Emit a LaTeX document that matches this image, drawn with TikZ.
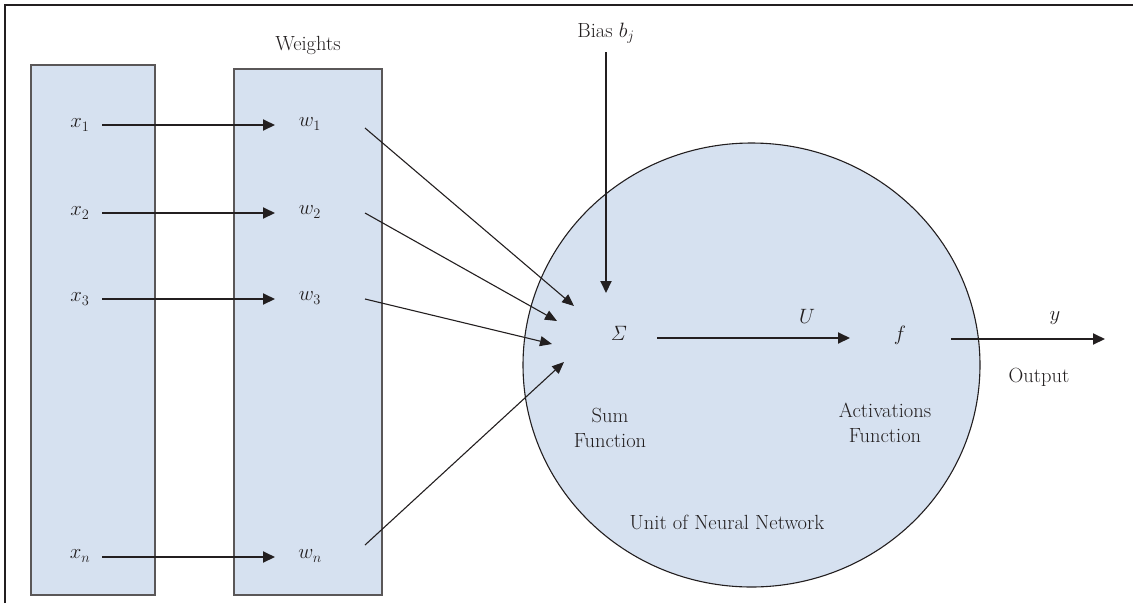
\documentclass[tikz,border=0pt]{standalone}
\usetikzlibrary{arrows.meta,shapes.geometric}
\definecolor{cellblue}{RGB}{214,225,240}
\definecolor{ink}{RGB}{35,31,32}
\begin{document}
\begin{tikzpicture}[x=1pt,y=-1pt,
  lbl/.style={inner sep=0pt,text=ink,font=\fontsize{20.5}{25}\selectfont},
  panel/.style={draw=ink!75,line width=1.3pt,fill=cellblue},
  thick arrow/.style={draw=ink,line width=2pt,-{Triangle[length=12pt,width=11pt]}},
  thin arrow/.style={draw=ink,line width=1.1pt,-{Triangle[length=12pt,width=10pt]}}]
\useasboundingbox (0,0) rectangle (1133,603);
% frame
\draw[ink,line width=2.5pt] (5,603) -- (5,5) -- (1133,5);
% panels
\node[panel,minimum width=124pt,minimum height=530pt,inner sep=0pt] (inbox) at (93,330) {};
\node[panel,minimum width=148pt,minimum height=526pt,inner sep=0pt] (wbox) at (308,332) {};
\node[lbl] (wtitle) at (308,45) {Weights};
% neuron
\node[draw=ink,line width=1.1pt,fill=cellblue,ellipse,minimum width=457pt,minimum height=444pt,inner sep=0pt] (unit) at (751.5,365) {};
% input labels
\node[lbl] (x1) at (80,125) {$x_1$};
\node[lbl] (x2) at (80,213) {$x_2$};
\node[lbl] (x3) at (80,299) {$x_3$};
\node[lbl] (xn) at (80,556) {$x_n$};
\node[lbl] (w1) at (310,124) {$w_1$};
\node[lbl] (w2) at (310,212) {$w_2$};
\node[lbl] (w3) at (310,298) {$w_3$};
\node[lbl] (wn) at (310,556) {$w_n$};
% arrow end points
\coordinate (a1) at (102,125); \coordinate (b1) at (275,125);
\coordinate (a2) at (102,213); \coordinate (b2) at (275,213);
\coordinate (a3) at (102,299); \coordinate (b3) at (275,299);
\coordinate (an) at (102,557); \coordinate (bn) at (275,557);
\draw[thick arrow] (a1) -- (b1);
\draw[thick arrow] (a2) -- (b2);
\draw[thick arrow] (a3) -- (b3);
\draw[thick arrow] (an) -- (bn);
% weighted lines into sum
\coordinate (s1) at (365,128); \coordinate (t1) at (574,306);
\coordinate (s2) at (365,213); \coordinate (t2) at (557,321);
\coordinate (s3) at (365,299); \coordinate (t3) at (552,344);
\coordinate (sn) at (365,545); \coordinate (tn) at (564,362);
\draw[thin arrow] (s1) -- (t1);
\draw[thin arrow] (s2) -- (t2);
\draw[thin arrow] (s3) -- (t3);
\draw[thin arrow] (sn) -- (tn);
% bias
\node[lbl] (bias) at (606,33) {Bias $b_j$};
\coordinate (bs) at (606,52); \coordinate (bt) at (606,293);
\draw[thick arrow] (bs) -- (bt);
% inside neuron
\node[lbl] (sigma) at (619,333) {$\mathit{\Sigma}$};
\node[lbl] (f) at (900,335) {$f$};
\coordinate (us) at (657,338); \coordinate (ut) at (850,338);
\draw[thick arrow] (us) -- (ut);
\node[lbl] (U) at (807,316) {$U$};
\node[lbl,align=center] (sumlbl) at (610,428) {Sum\\Function};
\node[lbl,align=center] (actlbl) at (885,423) {Activations\\Function};
\node[lbl] (unitlbl) at (727,522) {Unit of Neural Network};
% output
\coordinate (os) at (951,339); \coordinate (ot) at (1105,339);
\draw[thick arrow] (os) -- (ot);
\node[lbl] (ylbl) at (1055,318) {$y$};
\node[lbl] (outlbl) at (1039,377) {Output};
\end{tikzpicture}
\end{document}
